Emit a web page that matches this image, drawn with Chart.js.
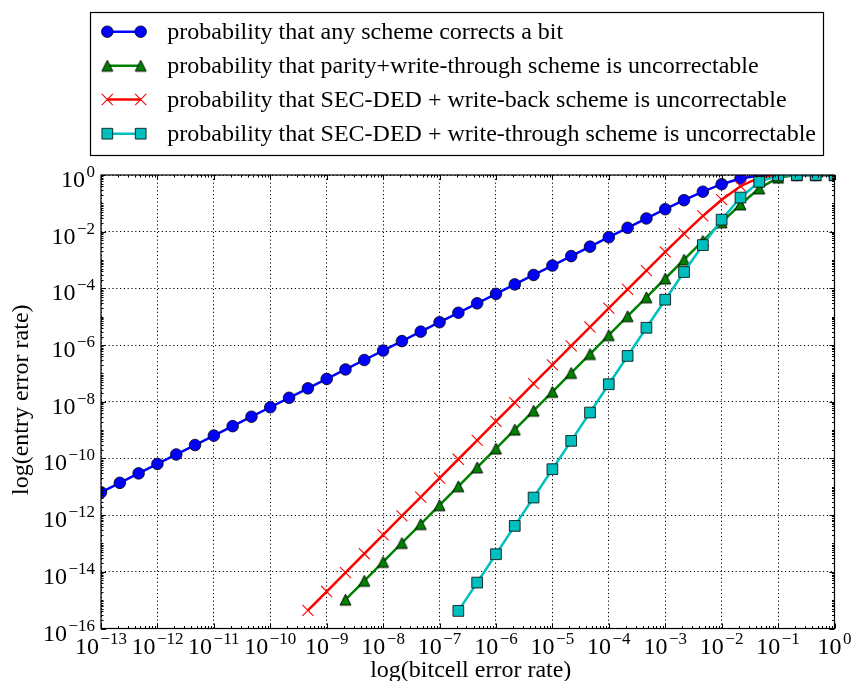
<!DOCTYPE html>
<html>
<head>
<meta charset="utf-8">
<title>Entry error rate vs bitcell error rate</title>
<script src="https://cdn.jsdelivr.net/npm/chart.js@4.4.1/dist/chart.umd.min.js"></script>
<style>
  html, body { margin: 0; padding: 0; background: #fff; }
  canvas { display: block; }
</style>
</head>
<body>
<canvas id="chart" width="852" height="681"></canvas>
<script>
// Bitcell error rate, three samples per decade
const bitcellErrorRate = [
  1e-13, 2.154e-13, 4.642e-13,
  1e-12, 2.154e-12, 4.642e-12,
  1e-11, 2.154e-11, 4.642e-11,
  1e-10, 2.154e-10, 4.642e-10,
  1e-9,  2.154e-9,  4.642e-9,
  1e-8,  2.154e-8,  4.642e-8,
  1e-7,  2.154e-7,  4.642e-7,
  1e-6,  2.154e-6,  4.642e-6,
  1e-5,  2.154e-5,  4.642e-5,
  1e-4,  2.154e-4,  4.642e-4,
  1e-3,  2.154e-3,  4.642e-3,
  1e-2,  2.154e-2,  4.642e-2,
  1e-1,  2.154e-1,  4.642e-1,
  1
];

// Entry error rates (null = not plotted at that bitcell rate)
const anySchemeCorrects = [
  6.4e-12, 1.379e-11, 2.971e-11,
  6.4e-11, 1.379e-10, 2.971e-10,
  6.4e-10, 1.379e-9,  2.971e-9,
  6.4e-9,  1.379e-8,  2.971e-8,
  6.4e-8,  1.379e-7,  2.971e-7,
  6.4e-7,  1.379e-6,  2.971e-6,
  6.4e-6,  1.379e-5,  2.971e-5,
  6.4e-5,  1.379e-4,  2.97e-4,
  6.398e-4, 1.378e-3, 2.966e-3,
  6.38e-3, 1.369e-2,  2.928e-2,
  6.20e-2, 0.1289,    0.2575,
  0.4744,  0.7518,    0.9523,
  0.9988,  1,         1,
  1
];

const parityWriteThrough = [
  null, null, null,
  null, null, null,
  null, null, null,
  null, null, null,
  null,    1.04e-15, 4.83e-15,
  2.24e-14, 1.04e-13, 4.83e-13,
  2.24e-12, 1.04e-11, 4.83e-11,
  2.24e-10, 1.04e-9,  4.83e-9,
  2.24e-8,  1.04e-7,  4.83e-7,
  2.24e-6,  1.04e-5,  4.82e-5,
  2.23e-4,  1.03e-3,  4.73e-3,
  2.135e-2, 9.15e-2,  0.337,
  0.809,    0.998,    1,
  1
];

const secdedWriteBack = [
  null, null, null,
  null, null, null,
  null, null, null,
  null, null, 4.34e-16,
  2.016e-15, 9.36e-15, 4.34e-14,
  2.016e-13, 9.36e-13, 4.34e-12,
  2.016e-11, 9.36e-11, 4.34e-10,
  2.016e-9,  9.36e-9,  4.34e-8,
  2.015e-7,  9.35e-7,  4.335e-6,
  2.008e-5,  9.28e-5,  4.26e-4,
  1.93e-3,   8.56e-3,  3.59e-2,
  0.1346,    0.402,    0.8035,
  0.9904,    1,        1,
  1
];

const secdedWriteThrough = [
  null, null, null,
  null, null, null,
  null, null, null,
  null, null, null,
  null, null, null,
  null, null, null,
  null, 4.17e-16, 4.17e-15,
  4.17e-14, 4.17e-13, 4.17e-12,
  4.17e-11, 4.17e-10, 4.16e-9,
  4.15e-8,  4.13e-7,  4.08e-6,
  3.98e-5,  3.78e-4,  3.37e-3,
  2.65e-2,  0.160,    0.575,
  0.961,    1,        1,
  1
];

const seriesLabels = [
  'probability that any scheme corrects a bit',
  'probability that parity+write-through scheme is uncorrectable',
  'probability that SEC-DED + write-back scheme is uncorrectable',
  'probability that SEC-DED + write-through scheme is uncorrectable'
];

// Tick labels are powers of ten: 10^exponent
const xTickExponents = [-13, -12, -11, -10, -9, -8, -7, -6, -5, -4, -3, -2, -1, 0];
const yTickExponents = [0, -2, -4, -6, -8, -10, -12, -14, -16];

const xAxisTitle = 'log(bitcell error rate)';
const yAxisTitle = 'log(entry error rate)';

const SERIF = '"Liberation Serif", "Times New Roman", serif';
const LABEL_SIZE = 24;
const SUP_SIZE = 17;

// Upward triangle marker (square bounding box, black edge)
function makeTriangle(size, fill) {
  const c = document.createElement('canvas');
  const pad = 2;
  c.width = c.height = Math.round(size + 2 * pad);
  const g = c.getContext('2d');
  const h = size / 2, cx = c.width / 2, cy = c.height / 2;
  g.beginPath();
  g.moveTo(cx, cy - h);
  g.lineTo(cx - h, cy + h);
  g.lineTo(cx + h, cy + h);
  g.closePath();
  g.fillStyle = fill;
  g.fill();
  g.lineWidth = 0.9;
  g.strokeStyle = '#000';
  g.stroke();
  return c;
}
const triangleMarker = makeTriangle(11, '#008000');

function toPoints(ys) {
  return bitcellErrorRate
    .map((x, i) => ({ x, y: ys[i] }))
    .filter(p => p.y !== null);
}

const styles = [
  { color: '#0000ff', point: 'circle', radius: 5.8, fill: '#0000ff', edge: '#000', edgeW: 0.8 },
  { color: '#008000', point: triangleMarker, radius: 6, fill: '#008000', edge: '#000', edgeW: 0.8 },
  { color: '#ff0000', point: 'crossRot', radius: 7.8, fill: '#ff0000', edge: '#ff0000', edgeW: 1.1 },
  { color: '#00bfbf', point: 'rect', radius: 7.6, fill: '#00bfbf', edge: '#000', edgeW: 0.8 }
];
const seriesValues = [anySchemeCorrects, parityWriteThrough, secdedWriteBack, secdedWriteThrough];

const datasets = seriesValues.map((vals, i) => ({
  label: seriesLabels[i],
  data: toPoints(vals),
  borderColor: styles[i].color,
  borderWidth: 2.5,
  pointStyle: styles[i].point,
  pointRadius: styles[i].radius,
  pointBackgroundColor: styles[i].fill,
  pointBorderColor: styles[i].edge,
  pointBorderWidth: styles[i].edgeW,
  tension: 0,
  fill: false,
  clip: 0,
  order: seriesValues.length - 1 - i   // later series drawn on top
}));

function drawMarker(ctx, i, x, y) {
  const s = styles[i];
  ctx.save();
  ctx.fillStyle = s.fill;
  ctx.strokeStyle = s.edge;
  ctx.lineWidth = s.edgeW;
  if (s.point === 'circle') {
    ctx.beginPath();
    ctx.arc(x, y, s.radius, 0, Math.PI * 2);
    ctx.fill(); ctx.stroke();
  } else if (s.point === 'rect') {
    const h = s.radius * Math.SQRT1_2;
    ctx.beginPath();
    ctx.rect(x - h, y - h, 2 * h, 2 * h);
    ctx.fill(); ctx.stroke();
  } else if (s.point === 'crossRot') {
    const h = s.radius * Math.SQRT1_2;
    ctx.beginPath();
    ctx.moveTo(x - h, y - h); ctx.lineTo(x + h, y + h);
    ctx.moveTo(x + h, y - h); ctx.lineTo(x - h, y + h);
    ctx.stroke();
  } else {
    ctx.drawImage(s.point, x - s.point.width / 2, y - s.point.height / 2);
  }
  ctx.restore();
}

// "10" followed by a superscript exponent
function supText(exp) {
  return exp === 0 ? '0' : '\u2212' + Math.abs(exp);
}
function powerWidth(ctx, exp) {
  ctx.font = LABEL_SIZE + 'px ' + SERIF;
  const wb = ctx.measureText('10').width;
  ctx.font = SUP_SIZE + 'px ' + SERIF;
  const ws = ctx.measureText(supText(exp)).width;
  return { wb, ws, total: wb + 1.5 + ws };
}
function drawPower(ctx, exp, left, baseline) {
  const m = powerWidth(ctx, exp);
  ctx.textAlign = 'left';
  ctx.textBaseline = 'alphabetic';
  ctx.font = LABEL_SIZE + 'px ' + SERIF;
  ctx.fillText('10', left, baseline);
  ctx.font = SUP_SIZE + 'px ' + SERIF;
  ctx.fillText(supText(exp), left + m.wb + 1.5, baseline - 10);
}

const axesDecor = {
  id: 'axesDecor',
  afterDatasetsDraw(chart) {
    const { ctx, chartArea: a, scales } = chart;
    const xs = scales.x, ys = scales.y;
    ctx.save();
    ctx.strokeStyle = '#000';
    ctx.lineWidth = 1;

    // inward tick marks on all four sides
    ctx.beginPath();
    const xMin = xTickExponents[0], xMax = xTickExponents[xTickExponents.length - 1];
    for (let e = xMin; e <= xMax; e++) {
      for (let k = 1; k <= 9; k++) {
        const v = k * Math.pow(10, e);
        if (v > Math.pow(10, xMax)) break;
        const px = Math.round(xs.getPixelForValue(v)) + 0.5;
        const len = (k === 1) ? 5 : 2.5;
        ctx.moveTo(px, a.bottom); ctx.lineTo(px, a.bottom - len);
        ctx.moveTo(px, a.top); ctx.lineTo(px, a.top + len);
      }
    }
    const yMin = yTickExponents[yTickExponents.length - 1], yMax = yTickExponents[0];
    for (let e = yMin; e <= yMax; e++) {
      for (let k = 1; k <= 9; k++) {
        const v = k * Math.pow(10, e);
        if (v > Math.pow(10, yMax)) break;
        const py = Math.round(ys.getPixelForValue(v)) + 0.5;
        const major = k === 1 && yTickExponents.includes(e);
        const len = major ? 5 : 2.5;
        ctx.moveTo(a.left, py); ctx.lineTo(a.left + len, py);
        ctx.moveTo(a.right, py); ctx.lineTo(a.right - len, py);
      }
    }
    ctx.stroke();

    // frame
    ctx.lineWidth = 1.2;
    ctx.strokeRect(a.left, a.top, a.right - a.left, a.bottom - a.top);

    // tick labels
    ctx.fillStyle = '#000';
    xTickExponents.forEach(e => {
      const px = xs.getPixelForValue(Math.pow(10, e));
      const m = powerWidth(ctx, e);
      drawPower(ctx, e, px - m.total / 2, a.bottom + 25);
    });
    yTickExponents.forEach(e => {
      const py = ys.getPixelForValue(Math.pow(10, e));
      const m = powerWidth(ctx, e);
      drawPower(ctx, e, a.left - 6 - m.total, py + 12);
    });

    // axis titles
    ctx.font = LABEL_SIZE + 'px ' + SERIF;
    ctx.textAlign = 'center';
    ctx.textBaseline = 'alphabetic';
    ctx.fillText(xAxisTitle, (a.left + a.right) / 2 + 3, 677);
    ctx.save();
    ctx.translate(28, (a.top + a.bottom) / 2 - 2);
    ctx.rotate(-Math.PI / 2);
    ctx.fillText(yAxisTitle, 0, 0);
    ctx.restore();

    // legend
    const box = { left: 90.5, top: 12.5, right: 823.5, bottom: 155.5 };
    ctx.fillStyle = '#fff';
    ctx.fillRect(box.left, box.top, box.right - box.left, box.bottom - box.top);
    ctx.lineWidth = 1.2;
    ctx.strokeStyle = '#000';
    ctx.strokeRect(box.left, box.top, box.right - box.left, box.bottom - box.top);
    const rows = [31.7, 65.7, 99.5, 133.7];
    seriesLabels.forEach((label, i) => {
      const y = rows[i];
      ctx.save();
      ctx.strokeStyle = styles[i].color;
      ctx.lineWidth = 2.5;
      ctx.beginPath();
      ctx.moveTo(107.3, y); ctx.lineTo(140.7, y);
      ctx.stroke();
      ctx.restore();
      drawMarker(ctx, i, 107.3, y);
      drawMarker(ctx, i, 140.7, y);
      ctx.fillStyle = '#000';
      ctx.font = LABEL_SIZE + 'px ' + SERIF;
      ctx.textAlign = 'left';
      ctx.textBaseline = 'alphabetic';
      ctx.fillText(label, 167.3, y + 7);
    });
    ctx.restore();
  }
};

function decadeTicks(exps) {
  return exps.map(e => ({ value: Math.pow(10, e) }));
}

new Chart(document.getElementById('chart'), {
  type: 'line',
  data: { datasets },
  options: {
    responsive: false,
    animation: false,
    devicePixelRatio: 1,
    events: [],
    layout: { padding: { left: 101, right: 17.5, top: 175, bottom: 52.5 } },
    plugins: { legend: { display: false }, tooltip: { enabled: false } },
    scales: {
      x: {
        type: 'logarithmic',
        min: Math.pow(10, xTickExponents[0]),
        max: Math.pow(10, xTickExponents[xTickExponents.length - 1]),
        afterBuildTicks: s => { s.ticks = decadeTicks(xTickExponents); },
        ticks: { display: false },
        grid: { color: '#000', lineWidth: 1, drawTicks: false },
        border: { display: false, dash: [1.2, 2.6] },
        title: { display: false }
      },
      y: {
        type: 'logarithmic',
        min: Math.pow(10, yTickExponents[yTickExponents.length - 1]),
        max: Math.pow(10, yTickExponents[0]),
        afterBuildTicks: s => { s.ticks = decadeTicks(yTickExponents); },
        ticks: { display: false },
        grid: { color: '#000', lineWidth: 1, drawTicks: false },
        border: { display: false, dash: [1.2, 2.6] },
        title: { display: false }
      }
    }
  },
  plugins: [axesDecor]
});
</script>
</body>
</html>
